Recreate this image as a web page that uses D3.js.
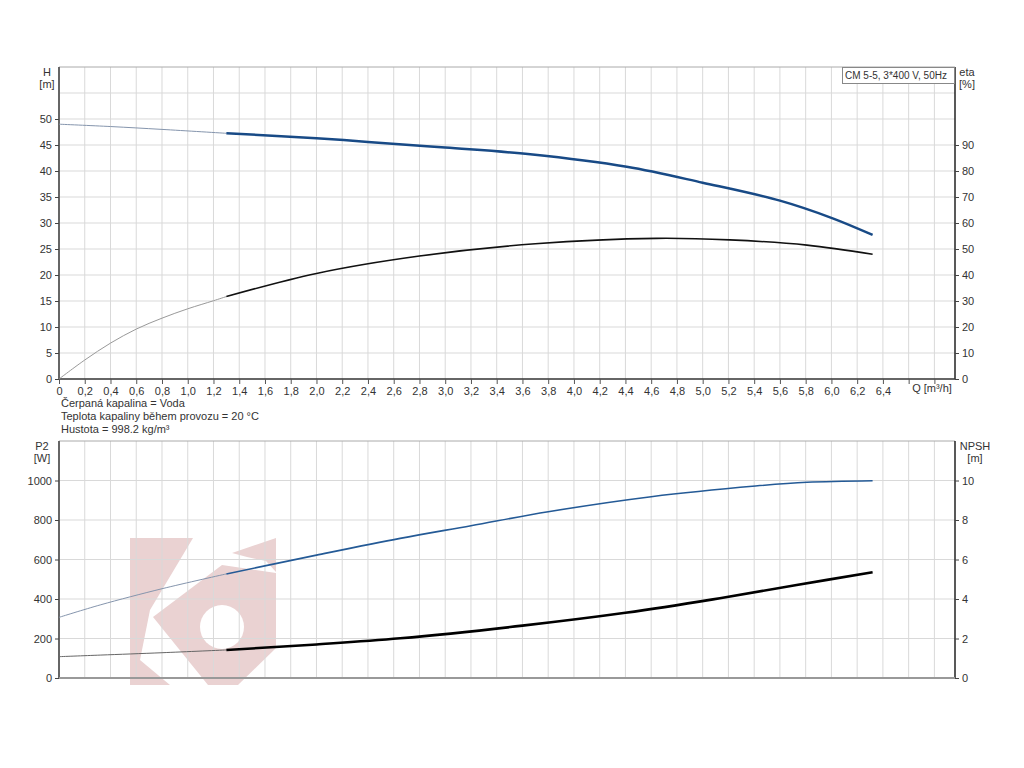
<!DOCTYPE html>
<html>
<head>
<meta charset="utf-8">
<script src="https://cdn.jsdelivr.net/npm/d3@7"></script>
<style>
  body { margin: 0; background: #fff; }
  svg { font-family: "Liberation Sans", Arial, sans-serif; }
  text { fill: #333; font-size: 11px; }
</style>
</head>
<body>
<div id="chart"></div>
<script>
// flow axis
const qTicks = d3.range(0, 6.81, 0.2);
const qLabelMax = 6.4;

// H curve (m), main + thin extension towards Q=0
const hQ = [1.3, 2.0, 2.4, 3.0, 3.66, 4.41, 5.0, 5.6, 6.01, 6.32];
const hVal = [47.25, 46.3, 45.6, 44.5, 43.2, 40.8, 37.75, 34.3, 30.9, 27.7];
const hExtQ = [0, 0.4, 0.8, 1.3];
const hExtVal = [49.0, 48.55, 48.0, 47.25];

// eta curve (%)
const etaQ = [1.3, 2.0, 2.8, 3.7, 4.64, 5.21, 5.81, 6.32];
const etaVal = [31.7, 40.6, 47.3, 52.0, 54.1, 53.5, 51.5, 48.0];
const etaExtQ = [0, 0.2, 0.4, 0.6, 0.8, 1.0, 1.2, 1.3];
const etaExtVal = [0, 7.3, 13.8, 19.2, 23.4, 27.0, 30.1, 31.7];

// P2 (W)
const p2Q = [1.3, 2.0, 2.65, 3.2, 3.8, 4.6, 5.41, 5.81, 6.32];
const p2Val = [527, 622, 707, 771, 842, 918, 972, 991, 999];
const p2ExtQ = [0, 0.32, 0.8, 1.3];
const p2ExtVal = [307, 370, 452, 527];

// NPSH (m)
const npshQ = [1.3, 2.0, 2.65, 3.6, 4.4, 5.08, 5.73, 6.32];
const npshVal = [1.42, 1.70, 2.01, 2.65, 3.3, 3.98, 4.71, 5.35];
const npshExtQ = [0, 0.32, 0.8, 1.3];
const npshExtVal = [1.08, 1.16, 1.28, 1.42];

const infoLines = ["Čerpaná kapalina = Voda", "Teplota kapaliny během provozu = 20 °C", "Hustota = 998.2 kg/m³"];
const legendText = "CM 5-5, 3*400 V, 50Hz";

const W = 1024, H = 768;
const left = 59, right = 955;

const svg = d3.select("#chart").append("svg").attr("width", W).attr("height", H);

const x = d3.scaleLinear().domain([0, 6.96]).range([left, right]);
const qFmt = d => d === 0 ? "0" : d3.format(".1f")(d).replace(".", ",");

const zip = (a, b) => a.map((q, i) => [q, b[i]]);
const curve = d3.curveCatmullRom.alpha(0.5);

// watermark logo (decoration)
const wm = svg.append("g").attr("fill", "#ead2d2");
wm.append("polygon").attr("points", "130,538 193,538 150,610 140,660 170,685 130,685");
wm.append("polygon").attr("points", "153,617 222,565 276,573 276,648 238,685 208,685");
wm.append("polygon").attr("points", "232,553 276,538 276,572 266,561 247,557");
wm.append("circle").attr("cx", 222).attr("cy", 627).attr("r", 22).attr("fill", "#fff");

const panel = (top, bottom, yDom, yTicks, rDom, rTicks, opts) => {
  const y = d3.scaleLinear().domain(yDom).range([bottom, top]);
  const yr = d3.scaleLinear().domain(rDom).range([bottom, top]);
  const g = svg.append("g");

  // grid
  g.selectAll(".vg").data(qTicks.filter(d => d > 0)).join("line")
    .attr("x1", d => x(d)).attr("x2", d => x(d)).attr("y1", top).attr("y2", bottom)
    .attr("stroke", "#d9d9d9").attr("stroke-width", 1);
  g.selectAll(".hg").data(opts.hGrid).join("line")
    .attr("x1", left).attr("x2", right).attr("y1", d => y(d)).attr("y2", d => y(d))
    .attr("stroke", "#d9d9d9").attr("stroke-width", 1);
  g.append("line").attr("x1", left).attr("x2", right).attr("y1", top).attr("y2", top)
    .attr("stroke", "#aaa").attr("stroke-width", 1);

  // left axis
  const la = g.append("g").attr("transform", `translate(${left},0)`)
    .call(d3.axisLeft(y).tickValues(yTicks).tickSize(4).tickPadding(3).tickFormat(d3.format("d")));
  la.select(".domain").attr("stroke", "#666").attr("stroke-width", 2).attr("d", `M0,${top}V${bottom}`);
  la.selectAll(".tick line").attr("stroke", "#444");
  la.selectAll("text").style("font-size", "11px").attr("fill", "#333");

  // right axis
  const ra = g.append("g").attr("transform", `translate(${right},0)`)
    .call(d3.axisRight(yr).tickValues(rTicks).tickSize(4).tickPadding(3).tickFormat(d3.format("d")));
  ra.select(".domain").attr("stroke", "#222").attr("stroke-width", 1.5).attr("d", `M0,${top}V${bottom}`);
  ra.selectAll(".tick line").attr("stroke", "#444");
  ra.selectAll("text").style("font-size", "11px").attr("fill", "#333");

  // bottom axis
  const ba = g.append("g").attr("transform", `translate(0,${bottom})`)
    .call(d3.axisBottom(x).tickValues(qTicks).tickSize(opts.xLabels ? 5 : 0).tickPadding(3)
      .tickFormat(d => opts.xLabels && d <= qLabelMax + 1e-6 ? qFmt(d) : ""));
  ba.select(".domain").attr("stroke", opts.xLabels ? "#333" : "#999").attr("stroke-width", opts.xLabels ? 1.5 : 2)
    .attr("d", `M${left},0H${right}`);
  ba.selectAll(".tick line").attr("stroke", "#555");
  ba.selectAll("text").style("font-size", "11px").attr("fill", "#333");

  return { y, yr, g };
};

// top panel: H and eta
const p1 = panel(67, 379, [0, 60], d3.range(0, 51, 5), [0, 120], d3.range(0, 91, 10),
  { hGrid: d3.range(5, 56, 5), xLabels: true });

const line1 = d3.line().x(d => x(d[0])).y(d => p1.y(d[1])).curve(curve);
const line1r = d3.line().x(d => x(d[0])).y(d => p1.yr(d[1])).curve(curve);
p1.g.append("path").attr("d", line1(zip(hExtQ, hExtVal))).attr("fill", "none").attr("stroke", "#8595ad").attr("stroke-width", 1);
p1.g.append("path").attr("d", line1(zip(hQ, hVal))).attr("fill", "none").attr("stroke", "#184a86").attr("stroke-width", 2.5);
p1.g.append("path").attr("d", line1r(zip(etaExtQ, etaExtVal))).attr("fill", "none").attr("stroke", "#999").attr("stroke-width", 1);
p1.g.append("path").attr("d", line1r(zip(etaQ, etaVal))).attr("fill", "none").attr("stroke", "#111").attr("stroke-width", 1.6);

svg.append("text").attr("x", 47).attr("y", 76).attr("text-anchor", "middle").text("H");
svg.append("text").attr("x", 47).attr("y", 88).attr("text-anchor", "middle").text("[m]");
svg.append("text").attr("x", 967).attr("y", 76).attr("text-anchor", "middle").text("eta");
svg.append("text").attr("x", 967).attr("y", 88).attr("text-anchor", "middle").text("[%]");
svg.append("text").attr("x", 932).attr("y", 392).attr("text-anchor", "middle").text("Q [m³/h]");

// legend box
svg.append("rect").attr("x", 842.5).attr("y", 67.5).attr("width", 112).attr("height", 16)
  .attr("fill", "#fff").attr("stroke", "#888");
svg.append("text").attr("x", 896).attr("y", 79).attr("text-anchor", "middle")
  .style("font-size", "10px").text(legendText);

// info text
svg.selectAll(".info").data(infoLines).join("text")
  .attr("x", 61).attr("y", (d, i) => 407 + i * 13).text(d => d);

// bottom panel: P2 and NPSH
const p2 = panel(441, 678, [0, 1200], d3.range(0, 1001, 200), [0, 12], d3.range(0, 11, 2),
  { hGrid: d3.range(200, 1001, 200), xLabels: false });

const line2 = d3.line().x(d => x(d[0])).y(d => p2.y(d[1])).curve(curve);
const line2r = d3.line().x(d => x(d[0])).y(d => p2.yr(d[1])).curve(curve);
p2.g.append("path").attr("d", line2(zip(p2ExtQ, p2ExtVal))).attr("fill", "none").attr("stroke", "#8595ad").attr("stroke-width", 1);
p2.g.append("path").attr("d", line2(zip(p2Q, p2Val))).attr("fill", "none").attr("stroke", "#245a96").attr("stroke-width", 1.6);
p2.g.append("path").attr("d", line2r(zip(npshExtQ, npshExtVal))).attr("fill", "none").attr("stroke", "#666").attr("stroke-width", 1);
p2.g.append("path").attr("d", line2r(zip(npshQ, npshVal))).attr("fill", "none").attr("stroke", "#000").attr("stroke-width", 2.6);

svg.append("text").attr("x", 42).attr("y", 450).attr("text-anchor", "middle").text("P2");
svg.append("text").attr("x", 42).attr("y", 462).attr("text-anchor", "middle").text("[W]");
svg.append("text").attr("x", 975).attr("y", 450).attr("text-anchor", "middle").text("NPSH");
svg.append("text").attr("x", 975).attr("y", 462).attr("text-anchor", "middle").text("[m]");
</script>
</body>
</html>
